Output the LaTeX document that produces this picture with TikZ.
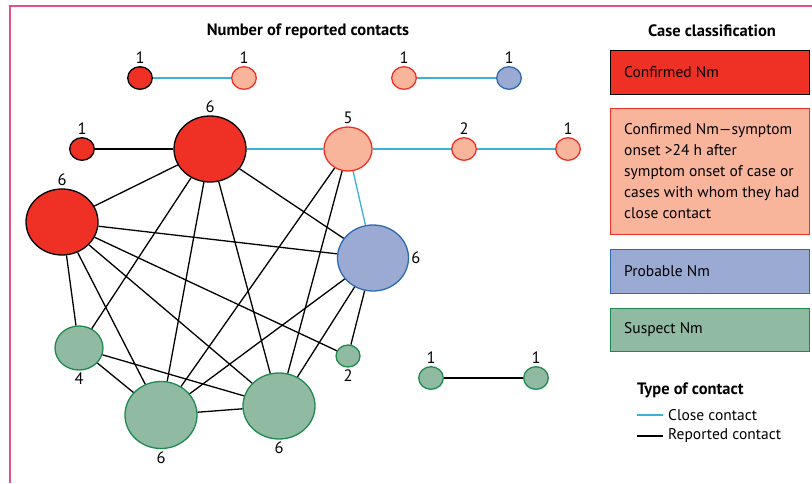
\documentclass[tikz,border=0pt]{standalone}
\usepackage{fontspec}
\setmainfont{PT Sans}
\usetikzlibrary{shapes.geometric}
\definecolor{cred}{HTML}{EE3124}
\definecolor{csal}{HTML}{F9B59C}
\definecolor{cbluef}{HTML}{9BAAD3}
\definecolor{cbluel}{HTML}{2A6AB1}
\definecolor{cgreenf}{HTML}{90BBA2}
\definecolor{cgreenl}{HTML}{1E8A4E}
\definecolor{ccyan}{HTML}{3BB1D6}
\definecolor{cpink}{HTML}{E0508A}
\tikzset{
  x=1pt, y=-1pt,
  every node/.style={font=\fontsize{15.5}{18}\selectfont},
  cnode/.style={ellipse, inner sep=0pt, line width=1.3pt},
  small/.style={cnode, minimum width=24.6pt, minimum height=22.6pt},
  mid/.style={cnode, minimum width=48pt, minimum height=44pt},
  big/.style={cnode, minimum width=72pt, minimum height=66pt},
  redn/.style={fill=cred, draw=black},
  saln/.style={fill=csal, draw=cred},
  bluen/.style={fill=cbluef, draw=cbluel},
  greenn/.style={fill=cgreenf, draw=cgreenl},
  lbl/.style={inner sep=1pt, font=\fontsize{16.5}{19}\selectfont},
  every label/.style={lbl},
  label distance=1pt,
  closec/.style={draw=ccyan, line width=1.3pt},
  repc/.style={draw=black, line width=1.3pt},
  legbox/.style={rectangle, anchor=north west, inner sep=0pt, line width=1.3pt},
  legtxt/.style={anchor=west, inner sep=0pt, align=left},
  hdr/.style={font=\bfseries\fontsize{16.5}{19}\selectfont, inner sep=0pt},
}
\begin{document}
\begin{tikzpicture}
\useasboundingbox (0,0) rectangle (812,483);
\draw[cpink, line width=1.2pt] (10,483) -- (10,6) -- (812,6);

% top row
\node[small, redn, label=above:1] (a1) at (140,78) {};
\node[small, saln, label=above:1] (a2) at (244,78) {};
\node[small, saln, label=above:1] (a3) at (404,78) {};
\node[small, bluen, label=above:1] (a4) at (509,78) {};
% second row
\node[small, redn, label=above:1] (b1) at (82,149) {};
\node[big, redn, label=above:6] (b2) at (210,149) {};
\node[mid, saln, label=above:5] (b3) at (348,149) {};
\node[small, saln, label=above:2] (b4) at (464,149) {};
\node[small, saln, label=above:1] (b5) at (568,149) {};
% network
\node[big, redn, label=above:6] (c1) at (62,222) {};
\node[big, bluen, minimum width=71pt, label=right:6] (d) at (373,258) {};
\node[mid, greenn, label=below:4] (e1) at (79,348) {};
\node[big, greenn, minimum height=67pt, label=below:6] (e2) at (161,415) {};
\node[big, greenn, label=below:6] (e3) at (279,406) {};
\node[small, greenn, minimum width=24pt, minimum height=22pt, label=below:2] (e4) at (348,356) {};
% green pair
\node[small, greenn, label=above:1] (f1) at (431,378) {};
\node[small, greenn, label=above:1] (f2) at (536,378) {};

% close contacts
\draw[closec] (a1) -- (a2);
\draw[closec] (a3) -- (a4);
\draw[closec] (b2) -- (b3);
\draw[closec] (b3) -- (b4);
\draw[closec] (b4) -- (b5);
\draw[closec] (b3) -- (d);
% reported contacts
\draw[repc] (b1) -- (b2);
\draw[repc] (f1) -- (f2);
\draw[repc] (b2) -- (c1);
\draw[repc] (b2) -- (e1);
\draw[repc] (b2) -- (e2);
\draw[repc] (b2) -- (e3);
\draw[repc] (b2) -- (d);
\draw[repc] (c1) -- (d);
\draw[repc] (c1) -- (e1);
\draw[repc] (c1) -- (e2);
\draw[repc] (c1) -- (e3);
\draw[repc] (c1) -- (e4);
\draw[repc] (b3) -- (e2);
\draw[repc] (b3) -- (e3);
\draw[repc] (d) -- (e2);
\draw[repc] (d) -- (e3);
\draw[repc] (d) -- (e4);
\draw[repc] (e1) -- (e2);
\draw[repc] (e1) -- (e3);
\draw[repc] (e2) -- (e3);

% headers
\node[hdr] (h1) at (308,31) {Number of reported contacts};
\node[hdr] (h2) at (712,31) {Case classification};

% legend boxes
\node[legbox, fill=cred, draw=black, minimum width=199pt, minimum height=44pt] (k1) at (610,50) {};
\node[legtxt] (t1) at (624,72) {Confirmed Nm};
\node[legbox, fill=csal, draw=cred, minimum width=199pt, minimum height=126pt] (k2) at (610,108) {};
\node[legtxt, font=\fontsize{15.5}{21}\selectfont] (t2) at (624,171) {Confirmed Nm—symptom\\onset >24 h after\\symptom onset of case or\\cases with whom they had\\close contact};
\node[legbox, fill=cbluef, draw=cbluel, minimum width=199pt, minimum height=44pt] (k3) at (610,249) {};
\node[legtxt] (t3) at (624,271) {Probable Nm};
\node[legbox, fill=cgreenf, draw=cgreenl, minimum width=199pt, minimum height=43pt] (k4) at (610,308) {};
\node[legtxt] (t4) at (624,329.5) {Suspect Nm};

% type of contact
\node[hdr, anchor=west] (h3) at (637,390) {Type of contact};
\coordinate (l1a) at (637,415);
\coordinate (l1b) at (663,415);
\coordinate (l2a) at (637,436);
\coordinate (l2b) at (663,436);
\draw[closec] (l1a) -- (l1b);
\draw[repc] (l2a) -- (l2b);
\node[legtxt] (t5) at (668,415) {Close contact};
\node[legtxt] (t6) at (668,436) {Reported contact};
\end{tikzpicture}
\end{document}
